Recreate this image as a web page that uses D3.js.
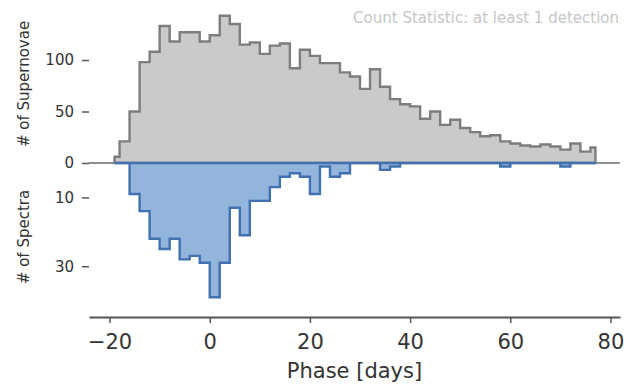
<!DOCTYPE html>
<meta charset="utf-8">
<style>
body {
   margin: 0;
   background: white;
}
text {
   font-family: "DejaVu Sans", sans-serif;
}
.axis path,
.axis line {
   stroke: #555;
}
</style>
<body>
<script src="https://d3js.org/d3.v7.min.js"></script>
<script>

////*data*////
// bin centres (days), shared by both histograms
const phaseCenters = d3.range(-19, 78, 2);
// supernovae with at least one detection, per bin
const supernovaCounts = [6, 21, 50, 98, 108, 133, 118, 127, 127, 118,
   124, 143, 135, 115, 117, 106, 114, 116, 92, 110,
   104, 97, 97, 88, 84, 72, 91, 74, 62, 57,
   55, 43, 50, 37, 42, 34, 30, 26, 27, 21,
   19, 17, 16, 18, 16, 13, 19, 11, 15];
// spectra per bin (drawn downwards)
const spectraCounts = [0, 0, 9, 14, 22, 25, 22, 28, 27, 29,
   39, 29, 13, 21, 11, 11, 7, 4, 3, 4,
   9, 1, 4, 3, 0, 0, 0, 2, 1, 0,
   0, 0, 0, 0, 0, 0, 0, 0, 0, 1,
   0, 0, 0, 0, 0, 1, 0, 0, 0];

const xTicks = [-20, 0, 20, 40, 60, 80];
const topTicks = [0, 50, 100];
const bottomTicks = [10, 30];

const plotVars = ({
   width: 643,
   height: 387,
   left: 89,
   right: 620,
   zeroY: 163,
   axisY: 317
});

const svg = d3.select("body")
   .append("svg")
   .attr("width", plotVars.width)
   .attr("height", plotVars.height);

let xScale = d3.scaleLinear()
   .domain([-24.1, 81.9])
   .range([plotVars.left, plotVars.right]);

let yTop = d3.scaleLinear()
   .domain([0, 158.3])
   .range([plotVars.zeroY, 0]);

let yBottom = d3.scaleLinear()
   .domain([0, 44.9])
   .range([plotVars.zeroY, plotVars.axisY + 0.5]);

//zero line between the two panels
svg.append("line")
   .attr("x1", plotVars.left)
   .attr("x2", plotVars.right)
   .attr("y1", yTop(0))
   .attr("y2", yTop(0))
   .attr("stroke", "#6b6b6b")
   .attr("stroke-width", 1.5);

//step histograms, step changes halfway between bin centres
let topArea = d3.area()
   .x((d, i) => xScale(phaseCenters[i]))
   .y0(yTop(0))
   .y1(d => yTop(d))
   .curve(d3.curveStep);

let bottomArea = d3.area()
   .x((d, i) => xScale(phaseCenters[i]))
   .y0(yBottom(0))
   .y1(d => yBottom(d))
   .curve(d3.curveStep);

svg.append("path")
   .datum(supernovaCounts)
   .attr("d", topArea)
   .attr("fill", "#cacaca")
   .attr("stroke", "#7d7d7d")
   .attr("stroke-width", 2.4);

svg.append("path")
   .datum(spectraCounts)
   .attr("d", bottomArea)
   .attr("fill", "#93b5dc")
   .attr("stroke", "#4171b0")
   .attr("stroke-width", 2.4);

//axes
let xAxis = svg.append("g")
   .attr("class", "axis")
   .attr("transform", `translate(0,${plotVars.axisY})`)
   .call(d3.axisBottom(xScale).tickValues(xTicks).tickSize(6).tickSizeOuter(0).tickPadding(11));
xAxis.select(".domain").attr("stroke-width", 2);
xAxis.selectAll("line").attr("stroke-width", 1.5);
xAxis.selectAll("text")
   .style("font-size", "21px")
   .attr("fill", "#333");

[[yTop, topTicks], [yBottom, bottomTicks]].forEach(function(pair) {
   let g = svg.append("g")
      .attr("class", "axis")
      .attr("transform", `translate(${plotVars.left},0)`)
      .call(d3.axisLeft(pair[0]).tickValues(pair[1]).tickSize(7).tickPadding(8));
   g.select(".domain").remove();
   g.selectAll("line").attr("stroke-width", 1.5);
   g.selectAll("text")
      .style("font-size", "15px")
      .attr("fill", "#333");
});

//labels
svg.append("text")
   .attr("transform", "translate(29,84) rotate(-90)")
   .style("text-anchor", "middle")
   .style("font-size", "15px")
   .attr("fill", "#333")
   .text("# of Supernovae");

svg.append("text")
   .attr("transform", "translate(29,237) rotate(-90)")
   .style("text-anchor", "middle")
   .style("font-size", "15px")
   .attr("fill", "#333")
   .text("# of Spectra");

svg.append("text")
   .attr("x", (plotVars.left + plotVars.right) / 2)
   .attr("y", 378)
   .style("text-anchor", "middle")
   .style("font-size", "21px")
   .attr("fill", "#333")
   .text("Phase [days]");

svg.append("text")
   .attr("x", 619)
   .attr("y", 23)
   .style("text-anchor", "end")
   .style("font-size", "15px")
   .attr("fill", "#c6c6c6")
   .text("Count Statistic: at least 1 detection");

</script>
</body>
</html>
